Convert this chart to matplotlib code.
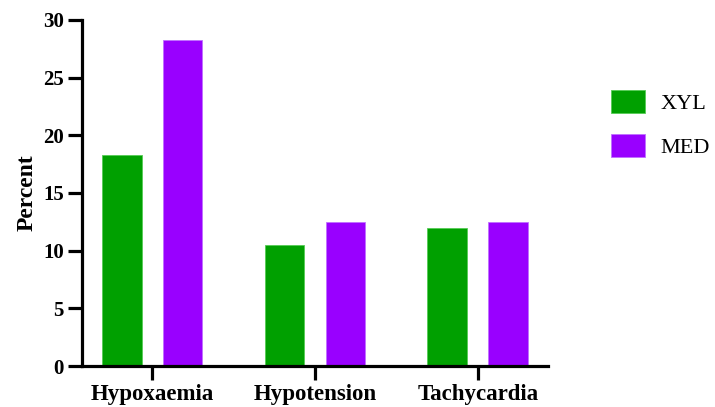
import matplotlib
matplotlib.use("Agg")
import matplotlib.pyplot as plt
import numpy as np
from matplotlib.patches import Patch

# data
categories = ["Hypoxaemia", "Hypotension", "Tachycardia"]
xyl_values = [18.3, 10.5, 12.0]
med_values = [28.3, 12.5, 12.5]
series_names = ["XYL", "MED"]
y_ticks = [0, 5, 10, 15, 20, 25, 30]

green = "#00a000"
purple = "#9900ff"

plt.rcParams["font.family"] = ["Liberation Serif", "DejaVu Serif"]

fig = plt.figure(figsize=(7.15, 4.07), dpi=100)
ax = fig.add_axes([0.1147, 0.1007, 0.6517, 0.8502])

x = np.arange(len(categories))
width = 0.245
offset = 0.187
ax.bar(x - offset, xyl_values, width, color=green, edgecolor="#55cc55", linewidth=0.6)
ax.bar(x + offset, med_values, width, color=purple, edgecolor="#c070ff", linewidth=0.6)

ax.set_xlim(-0.43, 2.43)
ax.set_ylim(0, 30)
ax.set_yticks(y_ticks)
ax.set_xticks(x)
ax.set_xticklabels(categories, fontsize=16.5, fontweight="bold")
for lbl in ax.get_yticklabels():
    lbl.set_fontsize(15)
    lbl.set_fontweight("bold")
ax.set_ylabel("Percent", fontsize=17, fontweight="bold", labelpad=4)

for side in ["top", "right"]:
    ax.spines[side].set_visible(False)
for side in ["left", "bottom"]:
    ax.spines[side].set_linewidth(2.3)
    ax.spines[side].set_color("black")
ax.tick_params(axis="both", width=2.3, length=10, color="black", pad=3)
ax.spines["left"].set_bounds(0, 30)

handles = [Patch(facecolor=green, edgecolor="#55cc55", linewidth=0.6),
           Patch(facecolor=purple, edgecolor="#c070ff", linewidth=0.6)]
fig.legend(handles, series_names, loc="upper left", bbox_to_anchor=(0.8545, 0.78),
           frameon=False, fontsize=16, handlelength=1.53, handleheight=1.22,
           labelspacing=0.92, handletextpad=0.7, borderpad=0, borderaxespad=0)

fig.savefig("out.png", dpi=100)
